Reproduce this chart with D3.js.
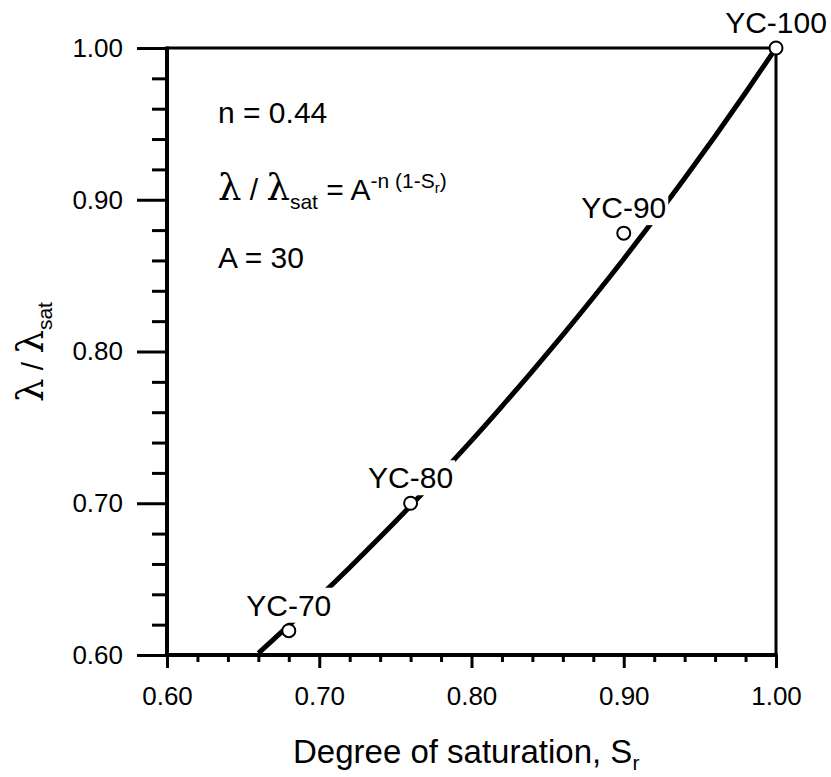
<!DOCTYPE html>
<html>
<head>
<meta charset="utf-8">
<script src="https://cdn.jsdelivr.net/npm/d3@7"></script>
<style>
  body { margin: 0; background: #fff; }
  text { font-family: "Liberation Sans", Arial, sans-serif; fill: #000; }
</style>
</head>
<body>
<svg id="chart" width="831" height="777"></svg>
<script>
// Model curve λ/λsat = A^(-n(1-Sr)), n = 0.44, A = 30, tabulated along Sr
const saturation = [0.66, 0.68, 0.70, 0.72, 0.74, 0.76, 0.78, 0.80, 0.82, 0.84,
                    0.86, 0.88, 0.90, 0.92, 0.94, 0.96, 0.98, 1.00];
const ratio      = [0.6012, 0.6195, 0.6383, 0.6577, 0.6777, 0.6983, 0.7195, 0.7413, 0.7639, 0.7871,
                    0.8110, 0.8356, 0.8610, 0.8872, 0.9141, 0.9419, 0.9705, 1.0000];

// Measured samples
const sampleNames = ["YC-70", "YC-80", "YC-90", "YC-100"];
const sampleSr    = [0.68, 0.76, 0.90, 1.00];
const sampleRatio = [0.616, 0.700, 0.878, 1.000];

// Axis ticks
const xTicks = [0.60, 0.70, 0.80, 0.90, 1.00];
const yTicks = [0.60, 0.70, 0.80, 0.90, 1.00];
const minorTicks = [0.62, 0.64, 0.66, 0.68, 0.72, 0.74, 0.76, 0.78, 0.82, 0.84, 0.86, 0.88,
                    0.92, 0.94, 0.96, 0.98];

const svg = d3.select("#chart");
const margin = { left: 167, top: 48, right: 55, bottom: 122 };
const W = 831 - margin.left - margin.right;
const H = 777 - margin.top - margin.bottom;

const x = d3.scaleLinear().domain([0.60, 1.00]).range([0, W]);
const y = d3.scaleLinear().domain([0.60, 1.00]).range([H, 0]);

const g = svg.append("g").attr("transform", `translate(${margin.left},${margin.top})`);

svg.append("defs").append("clipPath").attr("id", "plotClip")
  .append("rect").attr("x", 0).attr("y", 0).attr("width", W).attr("height", H);

const fmt = d3.format(".2f");

// Bottom axis: major + minor ticks
const xMajor = g.append("g").attr("transform", `translate(0,${H})`)
  .call(d3.axisBottom(x).tickValues(xTicks).tickFormat(fmt).tickSize(13).tickPadding(19));
const xMinor = g.append("g").attr("transform", `translate(0,${H})`)
  .call(d3.axisBottom(x).tickValues(minorTicks).tickFormat("").tickSize(7));

// Left axis: major + minor ticks
const yMajor = g.append("g")
  .call(d3.axisLeft(y).tickValues(yTicks).tickFormat(fmt).tickSize(30).tickPadding(14));
const yMinor = g.append("g")
  .call(d3.axisLeft(y).tickValues(minorTicks).tickFormat("").tickSize(15));

[xMajor, xMinor, yMajor, yMinor].forEach(a => {
  a.select(".domain").remove();
  a.selectAll(".tick line").attr("stroke", "#000").attr("stroke-width", 3);
  a.selectAll(".tick text").style("font-size", "26px").attr("fill", "#000");
});

// Curve
const line = d3.line().x((d, i) => x(saturation[i])).y(d => y(d)).curve(d3.curveMonotoneX);
g.append("path")
  .datum(ratio)
  .attr("clip-path", "url(#plotClip)")
  .attr("d", line)
  .attr("fill", "none")
  .attr("stroke", "#000")
  .attr("stroke-width", 5);

// Frame: thin top/right, heavier left/bottom axes
g.append("line").attr("x1", 0).attr("x2", W).attr("y1", 0).attr("y2", 0)
  .attr("stroke", "#000").attr("stroke-width", 3);
g.append("line").attr("x1", W).attr("x2", W).attr("y1", 0).attr("y2", H)
  .attr("stroke", "#000").attr("stroke-width", 3);
g.append("line").attr("x1", 0).attr("x2", 0).attr("y1", -1.5).attr("y2", H + 2)
  .attr("stroke", "#000").attr("stroke-width", 4);
g.append("line").attr("x1", -2).attr("x2", W + 1.5).attr("y1", H).attr("y2", H)
  .attr("stroke", "#000").attr("stroke-width", 4);

// Sample labels with white backing
const samples = sampleNames.map((name, i) => ({ name, sr: sampleSr[i], r: sampleRatio[i] }));
const labels = g.append("g").selectAll("g").data(samples).join("g");
labels.each(function (d) {
  const sel = d3.select(this);
  const t = sel.append("text")
    .attr("x", x(d.sr))
    .attr("y", y(d.r) - 15)
    .attr("text-anchor", "middle")
    .style("font-size", "30px")
    .text(d.name);
  const bb = t.node().getBBox();
  sel.insert("rect", "text")
    .attr("x", bb.x - 2).attr("y", bb.y - 1)
    .attr("width", bb.width + 4).attr("height", bb.height + 2)
    .attr("fill", "#fff");
});

// Sample markers
g.append("g").selectAll("circle").data(samples).join("circle")
  .attr("cx", d => x(d.sr))
  .attr("cy", d => y(d.r))
  .attr("r", 6.5)
  .attr("fill", "#fff")
  .attr("stroke", "#000")
  .attr("stroke-width", 2);

// Annotations
const lam = "DejaVu Serif, Liberation Serif, serif";
g.append("text").attr("x", 218 - margin.left).attr("y", 123 - margin.top)
  .style("font-size", "30px").text("n = 0.44");

const eq = g.append("text").attr("x", 218 - margin.left).attr("y", 200 - margin.top)
  .style("font-size", "30px");
eq.append("tspan").style("font-family", lam).style("font-size", "37px").text("λ");
eq.append("tspan").text(" / ");
eq.append("tspan").style("font-family", lam).style("font-size", "37px").text("λ");
eq.append("tspan").attr("dy", 9).style("font-size", "21px").text("sat");
eq.append("tspan").attr("dy", -9).text(" = A");
eq.append("tspan").attr("dy", -12).style("font-size", "21px").text("-n (1-S");
eq.append("tspan").attr("dy", 5).style("font-size", "15px").text("r");
eq.append("tspan").attr("dy", -5).style("font-size", "21px").text(")");

g.append("text").attr("x", 218 - margin.left).attr("y", 268 - margin.top)
  .style("font-size", "30px").text("A = 30");

// Axis titles
const xt = svg.append("text").attr("x", 293).attr("y", 763).style("font-size", "33px");
xt.append("tspan").text("Degree of saturation, S");
xt.append("tspan").attr("dy", 7).style("font-size", "21px").text("r");

const yt = svg.append("text").attr("transform", "translate(43,402) rotate(-90)")
  .style("font-size", "30px");
yt.append("tspan").style("font-family", lam).style("font-size", "37px").text("λ");
yt.append("tspan").text(" / ");
yt.append("tspan").style("font-family", lam).style("font-size", "37px").text("λ");
yt.append("tspan").attr("dy", 9).style("font-size", "21px").text("sat");
</script>
</body>
</html>
